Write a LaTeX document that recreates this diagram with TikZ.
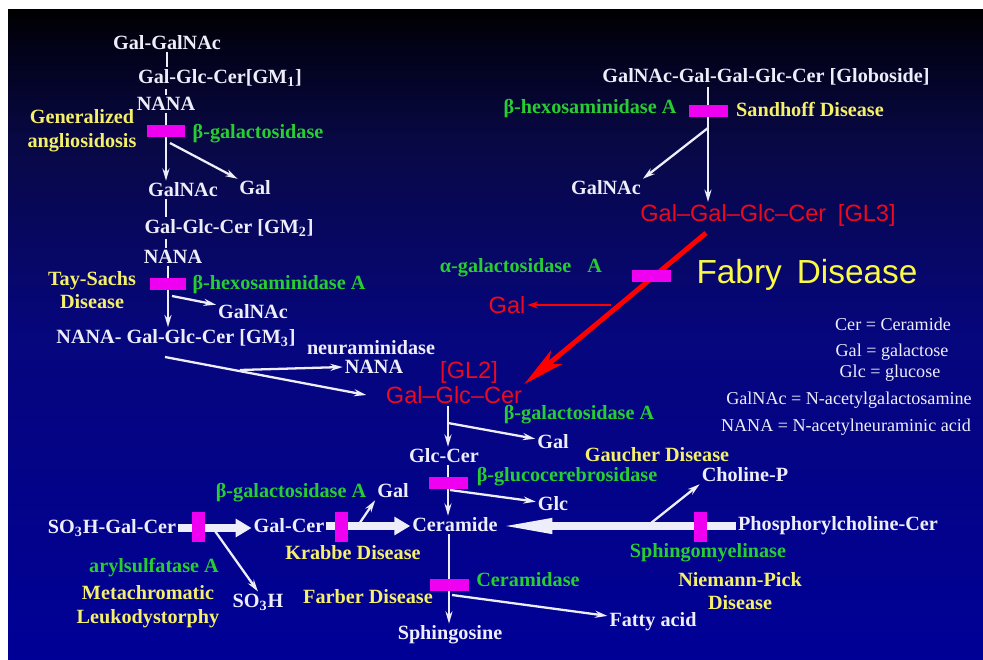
\documentclass[tikz,border=0pt]{standalone}
\usepackage{fontspec}
\setmainfont{Liberation Serif}
\setsansfont{Liberation Sans}
\usetikzlibrary{arrows.meta}
\definecolor{bgbot}{RGB}{0,0,150}
\definecolor{bgmid}{RGB}{6,6,125}
\definecolor{bgdark}{RGB}{8,8,68}
\definecolor{bgtop}{RGB}{2,2,25}
\definecolor{txtwhite}{RGB}{238,238,250}
\definecolor{enzgreen}{RGB}{40,205,50}
\definecolor{disyellow}{RGB}{245,240,105}
\definecolor{fabryyellow}{RGB}{250,250,70}
\definecolor{redtxt}{RGB}{235,10,30}
\definecolor{redline}{RGB}{255,0,0}
\definecolor{blkpink}{RGB}{240,0,240}
\pgfdeclareverticalshading{slidebg}{100bp}{color(0bp)=(bgbot); color(25bp)=(bgbot); color(50bp)=(bgmid); color(65bp)=(bgdark); color(72bp)=(bgtop); color(75bp)=(black); color(100bp)=(black)}
\pgfdeclarelayer{bg}
\pgfdeclarelayer{wires}
\pgfsetlayers{bg,wires,main}

\begin{document}
\begin{tikzpicture}[x=0.02cm,y=-0.02cm,
  wt/.style={text=txtwhite,font=\bfseries\fontsize{11.5}{13.5}\selectfont,inner sep=1pt,align=center},
  enz/.style={wt,text=enzgreen},
  dis/.style={wt,text=disyellow},
  rd/.style={text=redtxt,font=\sffamily\fontsize{13.4}{16}\selectfont,inner sep=1pt},
  leg/.style={text=txtwhite,font=\fontsize{10.3}{12}\selectfont,inner sep=1pt},
  hblk/.style={fill=blkpink,inner sep=0pt,minimum width=0.78cm,minimum height=0.24cm},
  vblk/.style={fill=blkpink,inner sep=0pt,minimum width=0.26cm,minimum height=0.6cm},
  arr/.style={color=txtwhite,line width=1.3pt,-{Stealth[length=7pt,width=4pt]}},
  tick/.style={color=txtwhite,line width=1.6pt},
  fat/.style={color=txtwhite,line width=4pt,-{Triangle[length=9pt,width=10pt]}},
  redarr/.style={color=redline,line width=2.8pt,-{Stealth[length=24pt,width=10pt,inset=6pt]}},
  thinred/.style={color=redline,line width=1.6pt,-{Stealth[length=6pt,width=4pt]}}]
\useasboundingbox (0,0) rectangle (983,659);
\begin{pgfonlayer}{bg}
\fill[white] (0,0) rectangle (983,659);
\shade[shading=slidebg] (8,9) rectangle (983,659);
\end{pgfonlayer}

\node[wt] (gagn) at (167,43) {Gal-GalNAc};
\node[wt] (gm1) at (220,78) {Gal-Glc-Cer[GM\textsubscript{1}]};
\node[wt] (nana1) at (166,104) {NANA};
\node[hblk] (b1) at (166,131) {};
\node[dis] (gang) at (82,131) {Generalized\\angliosidosis};
\node[enz] (bgal1) at (258,134) {β-galactosidase};
\node[wt] (galnac1) at (183,190) {GalNAc};
\node[wt] (gal1) at (255,188) {Gal};
\node[wt] (gm2) at (229,228) {Gal-Glc-Cer [GM\textsubscript{2}]};
\node[wt] (nana2) at (173,257) {NANA};
\node[hblk,minimum width=0.72cm] (b2) at (168,284) {};
\node[dis] (tay) at (92,290) {Tay-Sachs\\Disease};
\node[enz] (hexa1) at (279,285) {β-hexosaminidase A};
\node[wt] (galnac2) at (253,312) {GalNAc};
\node[wt] (gm3) at (176,338) {NANA- Gal-Glc-Cer [GM\textsubscript{3}]};
\node[wt] (neur) at (371,348) {neuraminidase};
\node[wt] (nana3) at (374,367) {NANA};

\node[wt] (glob) at (766,77) {GalNAc-Gal-Gal-Glc-Cer [Globoside]};
\node[hblk] (b3) at (708,111) {};
\node[enz] (hexa2) at (590,109) {β-hexosaminidase A};
\node[dis] (sand) at (810,109) {Sandhoff Disease};
\node[wt] (galnac3) at (606,188) {GalNAc};
\node[rd] (gl3) at (768,215) {Gal–Gal–Glc–Cer\hspace{0.5em}[GL3]};
\node[hblk] (b4) at (651,276) {};
\node[enz] (agal) at (521,268) {α-galactosidase\hspace{0.8em}A};
\node[wt,font=\sffamily\fontsize{19}{22}\selectfont,text=fabryyellow] (fabry) at (807,275) {Fabry\hspace{0.45em}Disease};
\node[rd] (rgal) at (507,305) {Gal};
\node[rd] (gl2tag) at (469,372) {[GL2]};
\node[rd] (gl2) at (454,395) {Gal–Glc–Cer};

\node[leg] (lcer) at (893,324) {Cer = Ceramide};
\node[leg] (lgal) at (892,352) {Gal = galactose};
\node[leg] (lglc) at (890,373) {Glc = glucose};
\node[leg] (lgalnac) at (849,400) {GalNAc = N-acetylgalactosamine};
\node[leg] (lnana) at (846,427) {NANA = N-acetylneuraminic acid};

\node[enz] (bgal2) at (579,415) {β-galactosidase A};
\node[wt] (gal3) at (553,442) {Gal};
\node[wt] (glccer) at (444,456) {Glc-Cer};
\node[dis] (gaucher) at (657,455) {Gaucher Disease};
\node[hblk] (b5) at (448,483) {};
\node[enz] (bglu) at (567,477) {β-glucocerebrosidase};
\node[wt] (glc) at (553,504) {Glc};
\node[wt] (cholp) at (745,475) {Choline-P};

\node[wt] (sulf) at (112,528) {SO\textsubscript{3}H-Gal-Cer};
\node[vblk] (b6) at (198,527) {};
\node[wt] (galcer) at (289,526) {Gal-Cer};
\node[vblk] (b7) at (341,527) {};
\node[wt] (cer) at (455,525) {Ceramide};
\node[vblk] (b8) at (700,527) {};
\node[wt] (pcc) at (838,526) {Phosphorylcholine-Cer};
\node[enz] (bgal3) at (291,493) {β-galactosidase A};
\node[wt] (gal4) at (393,491) {Gal};
\node[enz] (aryl) at (154,568) {arylsulfatase A};
\node[dis] (mld) at (148,607) {Metachromatic\\Leukodystorphy};
\node[wt] (so3h) at (258,602) {SO\textsubscript{3}H};
\node[dis] (krabbe) at (353,553) {Krabbe Disease};
\node[enz] (sphm) at (708,553) {Sphingomyelinase};
\node[dis] (npd) at (740,591) {Niemann-Pick\\Disease};
\node[hblk] (b9) at (449,585) {};
\node[enz] (cerase) at (528,580) {Ceramidase};
\node[dis] (farber) at (368,597) {Farber Disease};
\node[wt] (sphgs) at (450,635) {Sphingosine};
\node[wt] (fatty) at (653,622) {Fatty acid};

\coordinate (j1) at (170,143);
\coordinate (j2) at (172,296);
\coordinate (j3) at (165,357);
\coordinate (j4) at (240,370);
\coordinate (j5) at (448,423);
\coordinate (j6) at (450,490);
\coordinate (j7) at (452,595);
\coordinate (j8) at (646,527);
\coordinate (j9) at (357,527);
\coordinate (j10) at (215,531);
\coordinate (j11) at (708,128);
\coordinate (r0) at (706,233);
\coordinate (r1) at (611,305);

\begin{pgfonlayer}{wires}
\path[tick] (gagn.south) edge (gagn.south |- gm1.north)
  (gm1.south -| b1) edge (nana1.north -| b1)
  (nana1.south -| b1) edge (b1.north)
  (galnac1.south -| b1) edge (gm2.north -| b1)
  (gm2.south -| b1) edge (nana2.north -| b1)
  (nana2.south -| b2) edge (b2.north)
  (glccer.south -| b5) edge (b5.north)
  (cer.south -| b9) edge (b9.north);
\path[arr] (b1.south) edge (b1.south |- galnac1.north)
  (j1) edge (gal1)
  (b2.south) edge (b2.south |- gm3.north)
  (j2) edge (galnac2)
  (j3) edge ([xshift=-10pt]gl2.west)
  (j4) edge (nana3.west)
  (glob.south -| b3) edge (gl3.north -| b3)
  (j11) edge (galnac3.north east)
  (gl2.south -| b5) edge (glccer.north -| b5)
  (j5) edge (gal3)
  (b5.south) edge (b5.south |- cer.north)
  (j6) edge (glc)
  (b9.south) edge (b9.south |- sphgs.north)
  (j7) edge (fatty)
  (j8) edge (cholp.south west)
  (j9) edge (gal4.south west)
  (j10) edge (so3h.north);
\path[fat] (sulf.east) edge (sulf.east -| galcer.west)
  (galcer.east) edge (galcer.east -| cer.west);
\path[fat,-{Triangle[length=30pt,width=8pt]}] (pcc.west) edge (pcc.west -| cer.east);
\path[redarr] (r0) edge (gl2.north east);
\path[thinred] (r1) edge (rgal.east);
\end{pgfonlayer}
\end{tikzpicture}
\end{document}
